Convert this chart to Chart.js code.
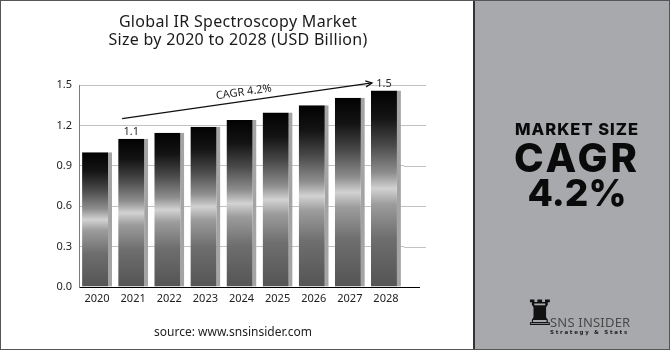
<!DOCTYPE html>
<html>
<head>
<meta charset="utf-8">
<script src="https://cdn.jsdelivr.net/npm/chart.js@4.4.0/dist/chart.umd.min.js"></script>
<style>
  body { margin: 0; background: #fff; }
  #wrap { position: relative; width: 670px; height: 350px; overflow: hidden; font-family: "Noto Sans", sans-serif; }
  #frame { position: absolute; left: 0; top: 0; width: 668px; height: 348px; border: 1px solid #555; }
  #chart { position: absolute; left: 0; top: 0; }
  .title { position: absolute; left: 0; width: 476px; text-align: center; font-size: 16px; letter-spacing: 0.3px; line-height: 18px; color: #1a1a1a; white-space: nowrap; }
  #source { position: absolute; left: 0; width: 466px; top: 324px; text-align: center; font-size: 12px; line-height: 16px; color: #222; }
  #side { position: absolute; left: 473px; top: 1px; width: 194px; height: 348px; background: #a8a9ac; border-left: 2px solid #333; }
  .big { position: absolute; left: 0; width: 204px; text-align: center; font-family: Inter, sans-serif; font-weight: 800; color: #0a0a0a; white-space: nowrap; }
  #rook { position: absolute; left: 49px; top: 292px; font-family: "DejaVu Sans", sans-serif; font-size: 35px; line-height: 40px; color: #111; }
  #brand { position: absolute; left: 75px; top: 314px; font-family: "Noto Sans", sans-serif; font-size: 13px; line-height: 14px; color: #4a4a4a; letter-spacing: 0.2px; }
  #tag { position: absolute; left: 75px; top: 328px; font-family: "DejaVu Sans", sans-serif; font-weight: bold; font-size: 5.5px; line-height: 6px; color: #222; letter-spacing: 1.7px; }
</style>
</head>
<body>
<div id="wrap">
  <canvas id="chart" width="473" height="350"></canvas>
  <div class="title" style="top:12px">Global IR Spectroscopy Market</div>
  <div class="title" style="top:29.5px">Size by 2020 to 2028 (USD Billion)</div>
  <div id="source">source: www.snsinsider.com</div>
  <div id="side">
    <div class="big" style="top:120px;font-size:16.5px;line-height:16px;letter-spacing:1px">MARKET SIZE</div>
    <div class="big" style="top:137px;font-size:40px;line-height:40px;letter-spacing:3px">CAGR</div>
    <div class="big" style="top:173px;font-size:37px;line-height:37px">4.2%</div>
    <div id="rook">&#9820;</div>
    <div id="brand">SNS INSIDER</div>
    <div id="tag">Strategy &amp; Stats</div>
  </div>
  <div id="frame"></div>
</div>
<script>
// Market size by year (USD Billion)
const years = ['2020', '2021', '2022', '2023', '2024', '2025', '2026', '2027', '2028'];
const sizes = [1.0, 1.1, 1.145, 1.19, 1.24, 1.295, 1.35, 1.405, 1.46];
const yTicks = [0, 0.3, 0.6, 0.9, 1.2, 1.5];
const labelled = [1, 8];            // bars that carry a value label
const labelText = ['1.1', '1.5'];
const cagrText = 'CAGR 4.2%';
const cagrFrom = [1, 1.25];         // [bar index, value]
const cagrTo = [8, 1.515];

// extra bits: grid/axis overhang, value labels, the CAGR arrow
const extras = {
    id: 'extras',
    beforeDatasetsDraw(chart) {
        const { ctx, chartArea, scales: { y } } = chart;
        ctx.save();
        ctx.lineWidth = 1;
        ctx.strokeStyle = '#c2c2c2';
        yTicks.forEach(v => {
            if (v === 0) return;
            const py = Math.round(y.getPixelForValue(v)) + 0.5;
            ctx.beginPath();
            ctx.moveTo(chartArea.right, py);
            ctx.lineTo(chartArea.right + 22, py);
            ctx.stroke();
        });
        ctx.strokeStyle = '#000';
        const p0 = Math.round(y.getPixelForValue(0)) + 0.5;
        ctx.beginPath();
        ctx.moveTo(chartArea.right, p0);
        ctx.lineTo(chartArea.right + 16, p0);
        ctx.stroke();
        ctx.restore();
    },
    afterDatasetsDraw(chart) {
        const { ctx, scales: { x, y } } = chart;
        const bars = chart.getDatasetMeta(0).data;
        ctx.save();
        ctx.fillStyle = '#2a2a2a';
        ctx.font = '11px "Noto Sans"';
        ctx.textAlign = 'center';
        ctx.textBaseline = 'middle';
        labelled.forEach((i, k) => {
            ctx.fillText(labelText[k], bars[i].x - 2, bars[i].y - 7);
        });

        // CAGR arrow
        const x1 = x.getPixelForValue(cagrFrom[0]) - 11, y1 = y.getPixelForValue(cagrFrom[1]);
        const x2 = x.getPixelForValue(cagrTo[0]) - 14, y2 = y.getPixelForValue(cagrTo[1]);
        const ang = Math.atan2(y2 - y1, x2 - x1);
        ctx.strokeStyle = '#111';
        ctx.lineWidth = 1.3;
        ctx.beginPath();
        ctx.moveTo(x1, y1);
        ctx.lineTo(x2, y2);
        ctx.stroke();
        ctx.beginPath();
        ctx.moveTo(x2 - 7 * Math.cos(ang - 0.45), y2 - 7 * Math.sin(ang - 0.45));
        ctx.lineTo(x2, y2);
        ctx.lineTo(x2 - 7 * Math.cos(ang + 0.45), y2 - 7 * Math.sin(ang + 0.45));
        ctx.stroke();

        ctx.translate((x1 + x2) / 2, (y1 + y2) / 2);
        ctx.rotate(ang);
        ctx.fillStyle = '#1a1a1a';
        ctx.fillText(cagrText, -2, -9);
        ctx.restore();
    }
};

function barGradient(c) {
    const chart = c.chart;
    const y = chart.scales.y;
    if (!chart.chartArea || !y) return '#333';
    const top = y.getPixelForValue(sizes[c.dataIndex]);
    const bottom = y.getPixelForValue(0);
    const g = chart.ctx.createLinearGradient(0, top, 0, bottom);
    g.addColorStop(0, '#020202');
    g.addColorStop(0.14, '#141414');
    g.addColorStop(0.28, '#4a4a4a');
    g.addColorStop(0.42, '#8e8e8e');
    g.addColorStop(0.5, '#d2d2d2');
    g.addColorStop(0.58, '#9c9c9c');
    g.addColorStop(0.75, '#6e6e6e');
    g.addColorStop(1, '#545454');
    return g;
}

new Chart(document.getElementById('chart'), {
    type: 'bar',
    data: {
        labels: years,
        datasets: [{
            data: sizes,
            backgroundColor: barGradient,
            borderColor: '#a4a4a4',
            borderWidth: { top: 0, right: 4, bottom: 0, left: 0 },
            borderSkipped: false,
            barPercentage: 0.83,
            categoryPercentage: 1
        }]
    },
    options: {
        responsive: false,
        animation: false,
        events: [],
        layout: { padding: { top: 85, right: 69, bottom: 43, left: 0 } },
        plugins: { legend: { display: false }, tooltip: { enabled: false } },
        scales: {
            x: {
                grid: { display: false, drawTicks: false },
                border: { display: true, color: '#000', width: 1 },
                ticks: { color: '#222', font: { family: 'Noto Sans', size: 11 }, padding: 5 },
                afterFit: s => { s.height = 20; }
            },
            y: {
                min: 0,
                max: 1.5,
                afterBuildTicks: s => { s.ticks = yTicks.map(v => ({ value: v })); },
                grid: { color: '#c2c2c2', drawTicks: false },
                border: { display: true, color: '#7a7a7a', width: 1 },
                ticks: {
                    color: '#222',
                    font: { family: 'Noto Sans', size: 11 },
                    padding: 7,
                    callback: v => v.toFixed(1)
                },
                afterFit: s => { s.width = 79; }
            }
        }
    },
    plugins: [extras]
});
</script>
</body>
</html>
